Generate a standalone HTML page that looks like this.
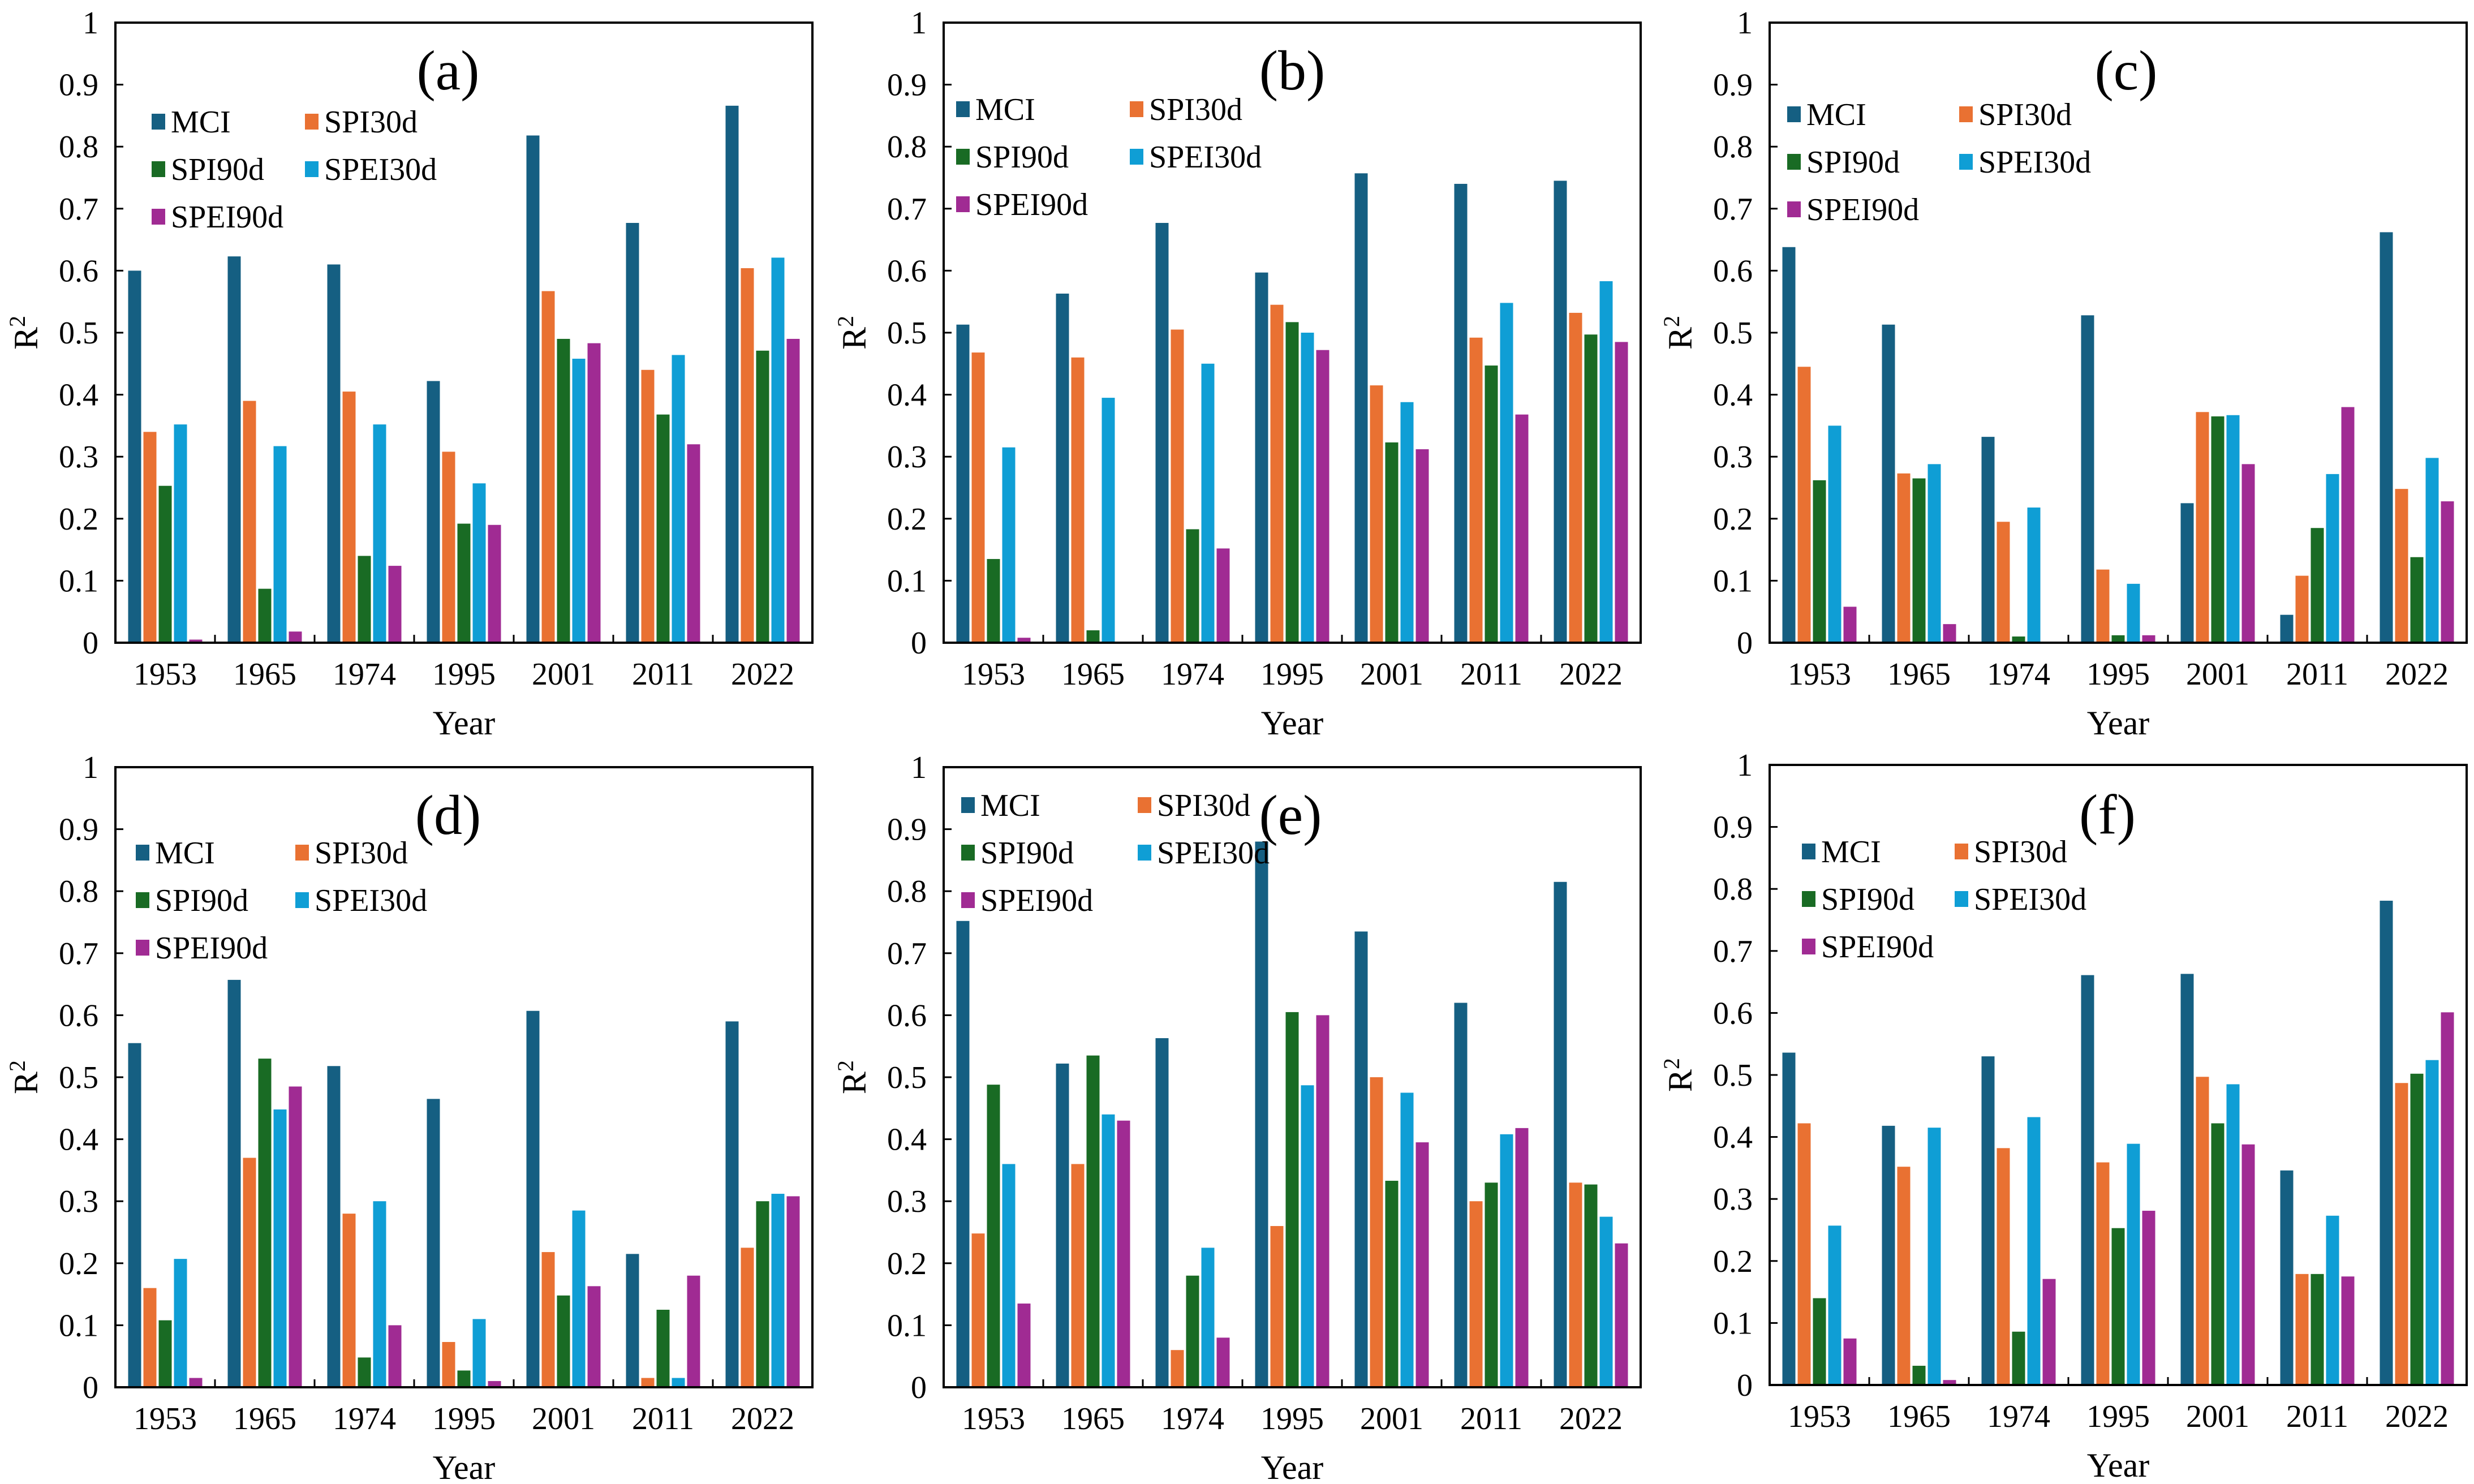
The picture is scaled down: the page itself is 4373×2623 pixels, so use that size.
<!DOCTYPE html>
<html><head><meta charset="utf-8">
<style>
html,body{margin:0;padding:0;background:#fff;}
svg{display:block;font-family:"Liberation Serif",serif;}
</style></head>
<body>
<svg id="chart" width="4373" height="2623" viewBox="0 0 4373 2623" xmlns="http://www.w3.org/2000/svg"></svg>
<script>
const categories = ["1953","1965","1974","1995","2001","2011","2022"];
const seriesNames = ["MCI","SPI30d","SPI90d","SPEI30d","SPEI90d"];
const seriesColors = ["#155f82","#e97132","#196b24","#0f9ed5","#a02b93"];
const yTicks = [0,0.1,0.2,0.3,0.4,0.5,0.6,0.7,0.8,0.9,1];
const yTickLabels = ["0","0.1","0.2","0.3","0.4","0.5","0.6","0.7","0.8","0.9","1"];
const panelLabels = ["(a)","(b)","(c)","(d)","(e)","(f)"];
// values per panel: [category][series]
const dataA = [[.60,.34,.253,.352,.005],[.623,.39,.087,.317,.018],[.61,.405,.14,.352,.124],[.422,.308,.192,.257,.19],[.818,.567,.49,.458,.483],[.677,.44,.368,.464,.32],[.866,.604,.471,.621,.49]];
const dataB = [[.513,.468,.135,.315,.008],[.563,.46,.02,.395,0],[.677,.505,.183,.45,.152],[.597,.545,.517,.5,.472],[.757,.415,.323,.388,.312],[.74,.492,.447,.548,.368],[.745,.532,.497,.583,.485]];
const dataC = [[.638,.445,.262,.35,.058],[.513,.273,.265,.288,.03],[.332,.195,.01,.218,0],[.528,.118,.012,.095,.012],[.225,.372,.365,.367,.288],[.045,.108,.185,.272,.38],[.662,.248,.138,.298,.228]];
const dataD = [[.555,.16,.108,.207,.015],[.657,.37,.53,.448,.485],[.518,.28,.048,.3,.1],[.465,.073,.027,.11,.01],[.607,.218,.148,.285,.163],[.215,.015,.125,.015,.18],[.59,.225,.3,.312,.308]];
const dataE = [[.752,.248,.488,.36,.135],[.522,.36,.535,.44,.43],[.563,.06,.18,.225,.08],[.88,.26,.605,.487,.6],[.735,.5,.333,.475,.395],[.62,.3,.33,.408,.418],[.815,.33,.327,.275,.232]];
const dataF = [[.536,.422,.14,.257,.075],[.418,.352,.031,.415,.008],[.53,.382,.086,.432,.171],[.661,.359,.253,.389,.281],[.663,.497,.422,.485,.388],[.346,.179,.179,.273,.175],[.781,.487,.502,.524,.601]];
const allData = [dataA,dataB,dataC,dataD,dataE,dataF];

const NS="http://www.w3.org/2000/svg";
const svg=document.getElementById('chart');
function mk(tag,attrs,parent){const e=document.createElementNS(NS,tag);for(const k in attrs)e.setAttribute(k,attrs[k]);(parent||svg).appendChild(e);return e;}

const layout=[
 {x:204,y:40,leg:[64,175,335],lab:[588,84]},
 {x:1668,y:40,leg:[22,153,329],lab:[616,84]},
 {x:3128,y:40,leg:[31,162,335],lab:[630,84]},
 {x:204,y:1356,leg:[36,151,318],lab:[588,84]},
 {x:1668,y:1356,leg:[31,67,343],lab:[613,84]},
 {x:3128,y:1352,leg:[57,153,327],lab:[597,87]}
];
const W=1232,H=1096,rowGap=84;

layout.forEach((L,p)=>{
  const g=mk('g',{});
  
  
  const x0=L.x,y0=L.y;
  const yS=v=>y0+H-v*H;
  const gw=W/categories.length;
  const bw=23,bs=27;
  const xS=(ci,si)=>x0+ci*gw+(gw-5*bs)/2+si*bs+2;
  allData[p].forEach((row,ci)=>{
    row.forEach((v,si)=>{
      const r=mk('rect',{x:xS(ci,si),y:yS(v),width:bw,height:Math.max(0,v*H),fill:seriesColors[si]},g);
      
      
    });
  });
  const f=mk('rect',{x:x0,y:y0,width:W,height:H,fill:'none',stroke:'#000','stroke-width':4},g);
  
  
  yTicks.forEach((t,i)=>{
    mk('line',{x1:x0,x2:x0+14,y1:yS(t),y2:yS(t),stroke:'#000','stroke-width':3},g);
    const tx=mk('text',{x:x0-30,y:yS(t)+19,'text-anchor':'end','font-size':56,fill:'#000'},g);
    tx.textContent=yTickLabels[i];
    
    
  });
  for(let i=1;i<categories.length;i++){
    mk('line',{x1:x0+i*gw,x2:x0+i*gw,y1:y0+H,y2:y0+H-14,stroke:'#000','stroke-width':3},g);
  }
  categories.forEach((c,i)=>{
    const tx=mk('text',{x:x0+(i+0.5)*gw,y:y0+H+74,'text-anchor':'middle','font-size':56,fill:'#000'},g);
    tx.textContent=c;
    
    
  });
  const xt=mk('text',{x:x0+W/2,y:y0+H+162,'text-anchor':'middle','font-size':60,fill:'#000'},g);
  xt.textContent='Year';
  
  
  const yt=mk('text',{x:0,y:0,'text-anchor':'middle','font-size':60,fill:'#000',transform:`translate(${x0-138},${y0+H/2}) rotate(-90)`},g);
  yt.innerHTML='R<tspan baseline-shift="super" font-size="40">2</tspan>';
  
  
  const pl=mk('text',{x:x0+L.lab[0],y:y0+L.lab[1]+34,'text-anchor':'middle','font-size':100,fill:'#000'},g);
  pl.textContent=panelLabels[p];
  
  
  seriesNames.forEach((n,si)=>{
    const col=si%2,row=Math.floor(si/2);
    const lx=x0+L.leg[0]+(col?L.leg[2]-L.leg[0]:0);
    const ly=y0+L.leg[1]+row*rowGap;
    const lg=mk('g',{},g);
    
    
    mk('rect',{x:lx,y:ly-14,width:24,height:28,fill:seriesColors[si]},lg);
    const t=mk('text',{x:lx+34,y:ly+19,'font-size':56,fill:'#000'},lg);
    t.textContent=n;
  });
});
</script>
</body></html>
